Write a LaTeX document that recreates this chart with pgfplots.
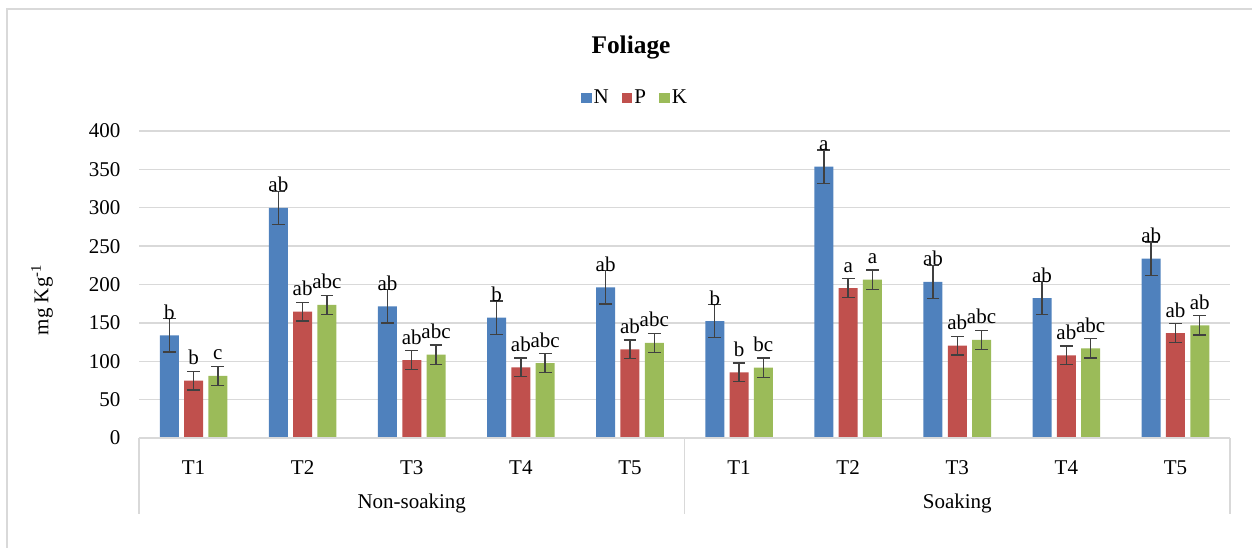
\documentclass[border=0pt]{standalone}
\usepackage{fontspec}
\setmainfont{Liberation Serif}
\usepackage{pgfplots}
\pgfplotsset{compat=1.18}
\definecolor{cN}{HTML}{4F81BD}
\definecolor{cP}{HTML}{C0504D}
\definecolor{cK}{HTML}{9BBB59}
\definecolor{gridgray}{HTML}{D9D9D9}
\definecolor{errgray}{HTML}{404040}
\begin{document}
\fontsize{21}{25}\selectfont
\begin{tikzpicture}[x=1pt,y=1pt]
\useasboundingbox (0,0) rectangle (1252,547);
\clip (0,0) rectangle (1252,547);
\draw[gridgray, line width=1.3pt] (7,-20) rectangle (1290,538);
\node[font=\fontsize{25.4}{30}\selectfont\bfseries, anchor=base] at (631,493.7) {Foliage};
\node[rotate=90, anchor=base] at (48.3,247) {mg Kg\textsuperscript{-1}};
\begin{axis}[
  at={(139pt,109pt)}, anchor=south west,
  scale only axis, width=1091pt, height=307pt,
  xmin=-0.5, xmax=9.5, ymin=0, ymax=400,
  enlargelimits=false, clip=false,
  axis line style={draw=none},
  tick style={draw=none},
  ytick={0,50,...,400},
  ymajorgrids, grid style={gridgray, line width=1.3pt},
  /pgf/number format/assume math mode=true,
  y tick label style={anchor=east, inner sep=0pt, xshift=-18.5pt},
  xtick={0,...,9},
  xticklabels={T1,T2,T3,T4,T5,T1,T2,T3,T4,T5},
  x tick label style={anchor=base, inner sep=0pt, yshift=-32pt},
  ybar=5.3pt, bar width=19pt,
  point meta=explicit symbolic,
  nodes near coords={\pgfplotspointmeta},
  nodes near coords style={anchor=base, inner sep=0pt, yshift=16pt},
  error bars/y dir=both, error bars/y explicit,
  error bars/error bar style={line width=1.4pt, color=errgray},
  error bars/error mark options={rotate=90, mark size=6.4pt, line width=1.4pt, color=errgray},
  legend style={draw=none, fill=none, at={(0.4546,1.1075)}, anchor=center,
    legend columns=3, inner sep=0pt,
    /tikz/every even column/.append style={column sep=11pt},
    nodes={inner sep=2pt}},
  legend image code/.code={\fill[#1] (0pt,-5.35pt) rectangle (10.7pt,5.35pt);},
]
\addplot[fill=cN, draw=none] table[x=x,y=y,y error=e,meta=l] {
x y e l
0 133.8 21.7 b
1 299.7 21.7 ab
2 171.6 21.7 ab
3 156.8 21.7 b
4 196.3 21.7 ab
5 152.4 21.7 b
6 353.5 21.7 a
7 203.3 21.7 ab
8 182.4 21.7 ab
9 233.6 21.7 ab
};
\addlegendentry{N}
\addplot[fill=cP, draw=none] table[x=x,y=y,y error=e,meta=l] {
x y e l
0 74.7 12.2 b
1 164.6 12.2 ab
2 101.6 12.2 ab
3 92.1 12.2 ab
4 115.5 12.2 ab
5 85.6 12.2 b
6 195.4 12.2 a
7 120.3 12.2 ab
8 107.7 12.2 ab
9 136.8 12.2 ab
};
\addlegendentry{P}
\addplot[fill=cK, draw=none] table[x=x,y=y,y error=e,meta=l] {
x y e l
0 80.8 12.6 c
1 173.3 12.6 abc
2 108.6 12.6 abc
3 97.7 12.6 abc
4 123.8 12.6 abc
5 91.6 12.6 bc
6 206.3 12.6 a
7 127.7 12.6 abc
8 116.8 12.6 abc
9 146.8 12.6 ab
};
\addlegendentry{K}
\draw[gridgray, line width=1.6pt] (axis cs:-0.5,0) -- (axis cs:9.5,0);
\draw[gridgray, line width=1.4pt] (axis cs:-0.5,0) -- ++(0pt,-76pt);
\draw[gridgray, line width=1.4pt] (axis cs:4.5,0) -- ++(0pt,-76pt);
\draw[gridgray, line width=1.4pt] (axis cs:9.5,0) -- ++(0pt,-76pt);
\node[anchor=base, inner sep=0pt] at (axis cs:2,0) [yshift=-70pt] {Non-soaking};
\node[anchor=base, inner sep=0pt] at (axis cs:7,0) [yshift=-70pt] {Soaking};
\end{axis}
\end{tikzpicture}
\end{document}
